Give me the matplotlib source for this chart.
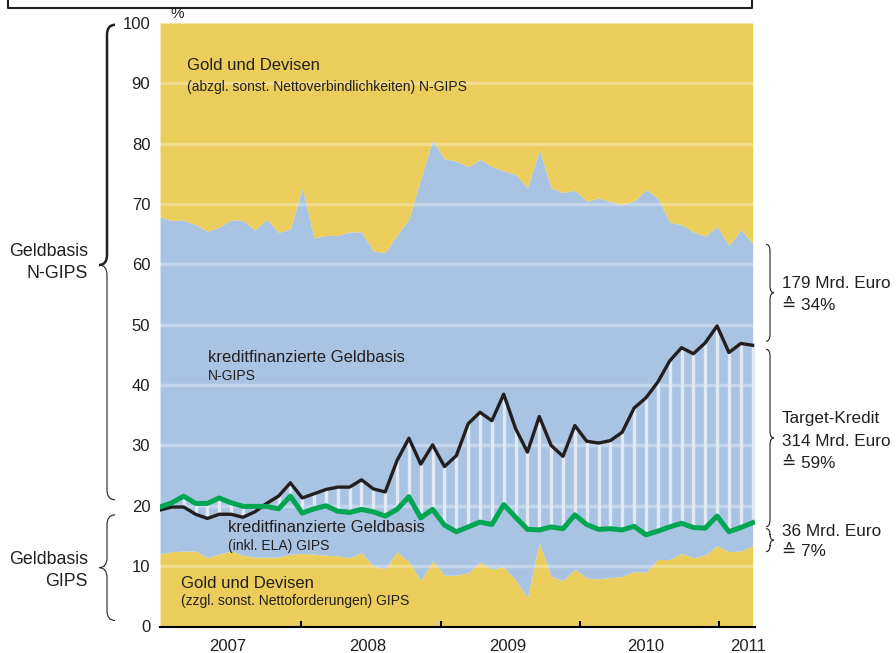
import matplotlib
matplotlib.use("Agg")
import matplotlib.pyplot as plt
from matplotlib.path import Path
from matplotlib.patches import PathPatch
import numpy as np

plt.rcParams['font.family'] = ['Liberation Sans', 'DejaVu Sans']

# Monatswerte Jan 2007 - Mrz 2011, Anteile an der Geldbasis des Euroraums in %
months = np.arange(51)
year_ticks = [11.9, 23.7, 35.45, 47.2]
year_label_pos = [5.7, 17.5, 29.3, 41.0, 49.6]
year_labels = ['2007', '2008', '2009', '2010', '2011']

# Obergrenze Gold und Devisen GIPS
gold_gips = [12.0, 12.4, 12.5, 12.5, 11.4, 12.0, 12.5, 11.8, 11.5, 11.5,
             11.5, 12.0, 12.1, 12.0, 11.8, 11.7, 11.4, 12.2, 10.0, 9.6,
             12.4, 10.7, 7.6, 10.9, 8.5, 8.5, 8.9, 10.7, 9.5, 9.9,
             7.7, 4.8, 13.9, 8.3, 7.6, 9.5, 8.0, 7.9, 8.1, 8.3,
             9.1, 9.0, 11.1, 11.1, 12.1, 11.4, 11.8, 13.4, 12.4, 12.5, 13.4]
# Geldbasis GIPS (gruene Linie)
geldbasis_gips = [19.8, 20.5, 21.6, 20.4, 20.4, 21.3, 20.5, 19.9, 19.9, 19.9,
                  19.5, 21.6, 18.8, 19.5, 20.0, 19.1, 18.9, 19.4, 19.0, 18.3,
                  19.4, 21.5, 18.0, 19.4, 16.8, 15.7, 16.5, 17.3, 16.9, 20.2,
                  18.1, 16.1, 16.0, 16.5, 16.2, 18.5, 16.9, 16.1, 16.2, 16.0,
                  16.6, 15.2, 15.8, 16.5, 17.1, 16.4, 16.3, 18.3, 15.7, 16.4, 17.2]
# Geldbasis GIPS + Target-Kredit (schwarze Linie)
mit_target = [19.3, 19.8, 19.8, 18.6, 17.9, 18.6, 18.6, 18.1, 19.0, 20.4,
              21.6, 23.8, 21.3, 22.0, 22.7, 23.1, 23.1, 24.3, 22.8, 22.3,
              27.5, 31.2, 26.9, 30.1, 26.5, 28.3, 33.6, 35.5, 34.1, 38.5,
              32.8, 28.9, 34.8, 30.0, 28.2, 33.3, 30.7, 30.4, 30.8, 32.2,
              36.2, 37.9, 40.5, 44.0, 46.2, 45.2, 47.0, 49.8, 45.4, 46.9, 46.6]
# Untergrenze Gold und Devisen N-GIPS
gold_ngips = [67.9, 67.3, 67.3, 66.6, 65.5, 66.2, 67.4, 67.3, 65.7, 67.5,
              65.3, 65.9, 72.7, 64.4, 64.8, 64.8, 65.4, 65.4, 62.2, 62.0,
              64.9, 67.5, 74.3, 80.6, 77.5, 77.1, 76.2, 77.4, 76.2, 75.5,
              74.9, 72.7, 79.0, 72.7, 71.9, 72.3, 70.5, 71.0, 70.4, 69.9,
              70.5, 72.4, 71.0, 67.0, 66.6, 65.4, 64.7, 66.3, 63.1, 65.8, 63.5]

gelb = '#EACD5A'
blau = '#A9C4E2'
schwarz = '#231F20'
gruen = '#00A651'

W, H = 896, 653
fig = plt.figure(figsize=(W / 100, H / 100), dpi=100)
ax = fig.add_axes([160 / W, 1 - 626.5 / H, 595 / W, 603.5 / H])

ax.fill_between(months, 0, gold_gips, color=gelb, lw=0, zorder=1)
ax.fill_between(months, gold_gips, gold_ngips, color=blau, lw=0, zorder=1)
ax.fill_between(months, gold_ngips, 100, color=gelb, lw=0, zorder=1)

for v in range(10, 100, 10):
    ax.axhline(v, color='white', alpha=0.3, lw=2.5, zorder=2)

# Target-Kredit als Streifen zwischen den Linien
lo = np.minimum(geldbasis_gips, mit_target)
hi = np.maximum(geldbasis_gips, mit_target)
ax.vlines(months, lo, hi, color='#E1E9F5', lw=2.4, zorder=3)

ax.plot(months, mit_target, color=schwarz, lw=2.4, zorder=4)
ax.plot(months, geldbasis_gips, color=gruen, lw=3.6, zorder=5)

ax.set_xlim(0, 50.2)
ax.set_ylim(0, 100)
ax.set_yticks(range(0, 101, 10))
ax.tick_params(axis='y', length=0, pad=7, labelsize=12, labelcolor=schwarz)
ax.set_xticks(year_ticks)
ax.set_xticklabels([])
ax.set_xticks(year_label_pos, minor=True)
ax.set_xticklabels(year_labels, minor=True)
ax.tick_params(axis='x', which='major', direction='in', length=4, width=1.5, color='black')
ax.tick_params(axis='x', which='minor', length=0, pad=9, labelsize=12, labelcolor=schwarz)
for s in ['left', 'top', 'right']:
    ax.spines[s].set_visible(False)
ax.spines['bottom'].set_linewidth(1.5)
ax.spines['bottom'].set_zorder(6)

# Overlay in Pixelkoordinaten fuer Texte und Klammern
ov = fig.add_axes([0, 0, 1, 1], zorder=10)
ov.set_xlim(0, W)
ov.set_ylim(H, 0)
ov.axis('off')
ov.set_facecolor('none')


def py(v):
    return H - ax.transData.transform((0, v))[1]


def klammer(x, y0, y1, d, w=5, r=8, lw=0.8, ym=None):
    if ym is None:
        ym = (y0 + y1) / 2
    teile = [
        ([(x - d * w, y0), (x, y0), (x, y0 + r), (x, ym - r), (x, ym), (x + d * w, ym)],
         [Path.MOVETO, Path.CURVE3, Path.CURVE3, Path.LINETO, Path.CURVE3, Path.CURVE3]),
        ([(x + d * w, ym), (x, ym), (x, ym + r), (x, y1 - r), (x, y1), (x - d * w, y1)],
         [Path.MOVETO, Path.CURVE3, Path.CURVE3, Path.LINETO, Path.CURVE3, Path.CURVE3]),
    ]
    lws = lw if isinstance(lw, tuple) else (lw, lw)
    for (verts, codes), l in zip(teile, lws):
        ov.add_patch(PathPatch(Path(verts, codes), fill=False, lw=l, color=schwarz))


# linke Klammern
klammer(107, py(99.7), py(21), -1, w=8, r=10, lw=(1.8, 0.8), ym=265)
klammer(107, py(18.5), py(1), -1, w=8, r=10, lw=0.8)
ov.text(88, 252, 'Geldbasis', ha='right', va='center', fontsize=12.8, color=schwarz)
ov.text(88, 274, 'N-GIPS', ha='right', va='center', fontsize=12.8, color=schwarz)
ov.text(88, 560, 'Geldbasis', ha='right', va='center', fontsize=12.8, color=schwarz)
ov.text(88, 581, 'GIPS', ha='right', va='center', fontsize=12.8, color=schwarz)

# rechte Klammern
klammer(770, py(gold_ngips[-1]) + 1, py(mit_target[-1]) - 4, 1, w=4, r=7)
klammer(770, py(mit_target[-1]) + 4, py(geldbasis_gips[-1]) + 4, 1, w=4, r=7)
klammer(770, py(geldbasis_gips[-1]) + 6, py(gold_gips[-1]) + 6, 1, w=4, r=6)

rechts = [
    (283, '179 Mrd. Euro'), (306, '≙ 34%'),
    (419, 'Target-Kredit'), (441, '314 Mrd. Euro'), (463, '≙ 59%'),
    (531, '36 Mrd. Euro'), (552, '≙ 7%'),
]
for y, t in rechts:
    ov.text(782, y, t, ha='left', va='center', fontsize=12.3, color=schwarz)

# Beschriftungen in der Flaeche
ov.text(187, 66, 'Gold und Devisen', va='center', fontsize=12, color=schwarz)
ov.text(187, 87, '(abzgl. sonst. Nettoverbindlichkeiten) N-GIPS', va='center', fontsize=10, color=schwarz)
ov.text(208, 357, 'kreditfinanzierte Geldbasis', va='center', fontsize=12, color=schwarz)
ov.text(208, 376, 'N-GIPS', va='center', fontsize=10, color=schwarz)
ov.text(228, 528, 'kreditfinanzierte Geldbasis', va='center', fontsize=12, color=schwarz)
ov.text(228, 546, '(inkl. ELA) GIPS', va='center', fontsize=10, color=schwarz)
ov.text(181, 583, 'Gold und Devisen', va='center', fontsize=12, color=schwarz)
ov.text(181, 601, '(zzgl. sonst. Nettoforderungen) GIPS', va='center', fontsize=10, color=schwarz)
ov.text(177, 14, '%', ha='center', va='center', fontsize=11, color=schwarz)

# Rahmen der abgeschnittenen Ueberschrift
ov.plot([8, 8, 752, 752], [-2, 8, 8, -2], color=schwarz, lw=1.5)

fig.savefig('out.png', dpi=100)
